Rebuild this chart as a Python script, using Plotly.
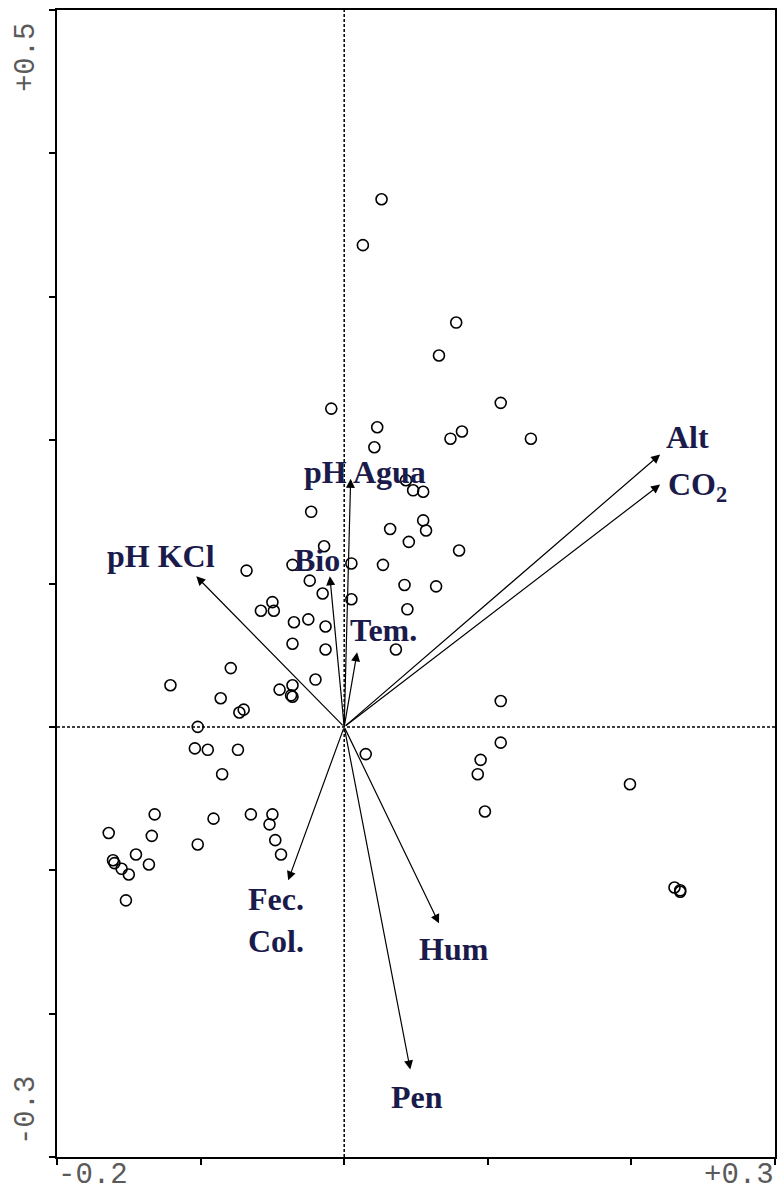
import plotly.graph_objects as go

# Site scores (axis 1, axis 2)
site_x = [0.026, 0.013, 0.078, 0.066, -0.009, 0.109, 0.023, 0.130, 0.074, 0.082,
          0.021, 0.043, 0.048, 0.055, -0.023, 0.032, 0.055, 0.057, 0.045, -0.014,
          0.080, 0.005, 0.027, -0.036, -0.068, -0.024, 0.042, 0.064, -0.015, -0.058,
          -0.050, -0.049, 0.005, -0.035, -0.025, -0.013, -0.036, -0.013, 0.036, 0.044,
          -0.079, -0.121, -0.086, -0.073, -0.070, -0.020, -0.045, -0.036, -0.037, -0.036,
          -0.102, -0.104, -0.095, -0.074, -0.085, 0.015, 0.109, 0.109, 0.095, 0.093,
          0.199, 0.098, -0.132, -0.091, -0.065, -0.050, -0.052, -0.048, -0.044, -0.164,
          -0.134, -0.102, -0.145, -0.161, -0.160, -0.155, -0.150, -0.136, -0.152, 0.230,
          0.234, 0.234]
site_y = [0.368, 0.336, 0.282, 0.259, 0.222, 0.226, 0.209, 0.201, 0.201, 0.206,
          0.195, 0.172, 0.165, 0.164, 0.150, 0.138, 0.144, 0.137, 0.129, 0.126,
          0.123, 0.114, 0.113, 0.113, 0.109, 0.102, 0.099, 0.098, 0.093, 0.081,
          0.087, 0.081, 0.089, 0.073, 0.075, 0.070, 0.058, 0.054, 0.054, 0.082,
          0.041, 0.029, 0.020, 0.010, 0.012, 0.033, 0.026, 0.029, 0.022, 0.021,
          0.000, -0.015, -0.016, -0.016, -0.033, -0.019, 0.018, -0.011, -0.023, -0.033,
          -0.040, -0.059, -0.061, -0.064, -0.061, -0.061, -0.068, -0.079, -0.089, -0.074,
          -0.076, -0.082, -0.089, -0.093, -0.095, -0.099, -0.103, -0.096, -0.121, -0.112,
          -0.114, -0.115]

# Environmental variable biplot scores
env_names = ["pH Agua", "Bio", "Tem.", "pH KCl", "Alt", "CO<sub>2</sub>",
             "Fec.<br>Col.", "Hum", "Pen"]
env_x = [0.0045, -0.010, 0.009, -0.103, 0.220, 0.220, -0.039, 0.066, 0.046]
env_y = [0.173, 0.105, 0.052, 0.105, 0.190, 0.169, -0.107, -0.137, -0.239]

# Axis range and end labels
x_range = [-0.2, 0.3]
y_range = [-0.3, 0.5]
x_end_labels = ["-0.2", "+0.3"]
y_end_labels = ["+0.5", "-0.3"]
tick_step = 0.1

# Label offsets from the arrow tips, in pixels
label_shift = {
    "pH Agua": (14, 7), "Bio": (-13, 16), "Tem.": (26, 22), "pH KCl": (-35, 20),
    "Alt": (27, 17), "CO<sub>2</sub>": (37, -2), "Fec.<br>Col.": (-12, -40),
    "Hum": (15, -26), "Pen": (7, -27),
}

W, H = 779, 1193
M = dict(l=57, r=2, t=10, b=36)
plot_w = W - M["l"] - M["r"]
plot_h = H - M["t"] - M["b"]

label_color = "#1b1b4b"
tick_color = "#5a5a5a"

fig = go.Figure()

fig.add_trace(go.Scatter(
    x=site_x, y=site_y, mode="markers",
    marker=dict(symbol="circle-open", size=11, color="black", line=dict(width=1.6)),
    hoverinfo="skip", showlegend=False,
))

# Dotted zero lines
fig.add_shape(type="line", x0=0, x1=0, y0=y_range[0], y1=y_range[1], xref="x", yref="y",
              line=dict(color="black", width=1.5, dash="3px,2px"), layer="below")
fig.add_shape(type="line", x0=x_range[0], x1=x_range[1], y0=0, y1=0, xref="x", yref="y",
              line=dict(color="black", width=1.5, dash="3px,2px"), layer="below")

annotations = []
for name, ex, ey in zip(env_names, env_x, env_y):
    annotations.append(dict(
        x=ex, y=ey, ax=0, ay=0, xref="x", yref="y", axref="x", ayref="y",
        text="", showarrow=True, arrowhead=2, arrowsize=1.5, arrowwidth=1.2,
        arrowcolor="black",
    ))
    dx, dy = label_shift[name]
    annotations.append(dict(
        x=ex, y=ey, xref="x", yref="y", text="<b>" + name + "</b>", showarrow=False,
        xshift=dx, yshift=dy, xanchor="center", yanchor="middle",
        font=dict(family="Liberation Serif, Times New Roman, serif", size=32, color=label_color),
    ))

tick_font = dict(family="Liberation Mono, Courier New, monospace", size=29, color=tick_color)
# x end labels: left-aligned at the left end, right-aligned at the right end
annotations.append(dict(x=0, y=-(1175 - (H - M["b"])) / plot_h, xref="paper", yref="paper",
                        text=x_end_labels[0], showarrow=False, xanchor="left", yanchor="middle",
                        borderpad=0, font=tick_font))
annotations.append(dict(x=1, y=-(1175 - (H - M["b"])) / plot_h, xref="paper", yref="paper",
                        text=x_end_labels[1], showarrow=False, xanchor="right", yanchor="middle",
                        borderpad=0, font=tick_font))
# y end labels, rotated
annotations.append(dict(x=(26 - M["l"]) / plot_w, y=(H - M["b"] - 57) / plot_h,
                        xref="paper", yref="paper", text=y_end_labels[0], showarrow=False,
                        textangle=-90, xanchor="center", yanchor="middle", font=tick_font))
annotations.append(dict(x=(26 - M["l"]) / plot_w, y=(H - M["b"] - 1110) / plot_h,
                        xref="paper", yref="paper", text=y_end_labels[1], showarrow=False,
                        textangle=-90, xanchor="center", yanchor="middle", font=tick_font))

axis_common = dict(showgrid=False, zeroline=False, showline=True, linecolor="black",
                   linewidth=2, mirror=True, ticks="outside", ticklen=6, tickwidth=2,
                   tickcolor="black", showticklabels=False, dtick=tick_step)

fig.update_layout(
    width=W, height=H, margin=M,
    paper_bgcolor="white", plot_bgcolor="white",
    xaxis=dict(range=x_range, tick0=x_range[0], **axis_common),
    yaxis=dict(range=y_range, tick0=y_range[0], **axis_common),
    annotations=annotations,
)

fig.write_html("out.html")
